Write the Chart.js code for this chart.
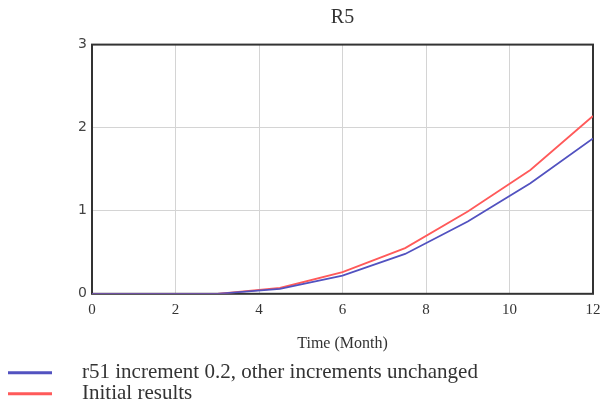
<!DOCTYPE html>
<html>
<head>
<meta charset="utf-8">
<script src="https://cdn.jsdelivr.net/npm/chart.js@4"></script>
<style>
  html, body { margin: 0; padding: 0; background: #fff; }
  #wrap { width: 602px; height: 410px; }
</style>
</head>
<body>
<div id="wrap"><canvas id="c" width="602" height="410"></canvas></div>
<script>
// Simulation output for R5 over a 12-month horizon
const months = [0, 1.5, 3, 4.5, 6, 7.5, 9, 10.5, 12];
const r51Increment = [0, 0, 0, 0.06, 0.22, 0.48, 0.87, 1.33, 1.87];
const initialResults = [0, 0, 0, 0.07, 0.26, 0.55, 0.99, 1.49, 2.14];
const xTicks = [0, 2, 4, 6, 8, 10, 12];
const yTicks = [0, 1, 2, 3];
const seriesNames = ['r51 increment 0.2, other increments unchanged', 'Initial results'];
const seriesColors = ['#5252c0', '#ff5a5a'];

const toPoints = (vals) => months.map((m, i) => ({ x: m, y: vals[i] }));

// Dark frame around the plotting area, drawn beneath the lines
const framePlugin = {
  id: 'frame',
  beforeDatasetsDraw(chart) {
    const { ctx, chartArea: a } = chart;
    ctx.save();
    ctx.strokeStyle = '#333';
    ctx.lineWidth = 2;
    ctx.strokeRect(a.left, a.top, a.right - a.left, a.bottom - a.top);
    ctx.restore();
  }
};

// Legend rows below the axis title: a short line sample followed by the series name
const legendPlugin = {
  id: 'lineLegend',
  afterDraw(chart) {
    const { ctx, chartArea: a } = chart;
    ctx.save();
    ctx.font = '21px "Liberation Serif"';
    ctx.textBaseline = 'middle';
    chart.data.datasets.forEach((ds, i) => {
      const y = a.bottom + 79 + i * 21;
      ctx.strokeStyle = ds.borderColor;
      ctx.lineWidth = 3;
      ctx.beginPath();
      ctx.moveTo(8, y);
      ctx.lineTo(52, y);
      ctx.stroke();
      ctx.fillStyle = '#333';
      ctx.fillText(ds.label, 82, y);
    });
    ctx.restore();
  }
};

new Chart(document.getElementById('c'), {
  type: 'line',
  data: {
    datasets: [
      {
        label: seriesNames[0],
        data: toPoints(r51Increment),
        borderColor: seriesColors[0],
        backgroundColor: seriesColors[0],
        borderWidth: 1.8,
        pointRadius: 0,
        tension: 0
      },
      {
        label: seriesNames[1],
        data: toPoints(initialResults),
        borderColor: seriesColors[1],
        backgroundColor: seriesColors[1],
        borderWidth: 1.8,
        pointRadius: 0,
        tension: 0
      }
    ]
  },
  options: {
    responsive: false,
    animation: false,
    events: [],
    layout: { padding: { left: 0, right: 9, top: 0, bottom: 57 } },
    plugins: {
      legend: { display: false },
      tooltip: { enabled: false },
      title: {
        display: true,
        fullSize: false,
        text: 'R5',
        color: '#333',
        font: { family: '"Liberation Serif"', size: 20, weight: 'normal' },
        padding: { top: 6, bottom: 14.6 }
      }
    },
    scales: {
      x: {
        type: 'linear',
        min: 0,
        max: 12,
        afterBuildTicks(scale) { scale.ticks = xTicks.map(v => ({ value: v })); },
        afterFit(scale) { scale.paddingRight = 0; },
        grid: { color: '#d4d4d4', lineWidth: 1, drawTicks: false },
        border: { display: false },
        ticks: {
          padding: 7,
          color: '#333',
          maxRotation: 0,
          font: { family: '"Liberation Serif"', size: 15 }
        },
        title: {
          display: true,
          text: 'Time (Month)',
          color: '#333',
          font: { family: '"Liberation Serif"', size: 16 },
          padding: { top: 8, bottom: 0 }
        }
      },
      y: {
        type: 'linear',
        min: 0,
        max: 3,
        afterBuildTicks(scale) { scale.ticks = yTicks.map(v => ({ value: v })); },
        afterFit(scale) { scale.width = 92; },
        grid: { color: '#d4d4d4', lineWidth: 1, drawTicks: false },
        border: { display: false },
        ticks: {
          padding: 5,
          color: '#444',
          font: { family: '"DejaVu Sans"', size: 14 }
        }
      }
    }
  },
  plugins: [framePlugin, legendPlugin]
});
</script>
</body>
</html>
